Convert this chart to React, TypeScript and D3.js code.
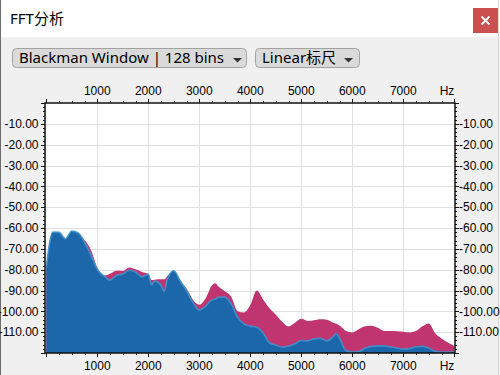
import React from "react";
import * as d3 from "d3";

const freqs = [0,62.5,125,250,375,500,625,750,875,1000,1125,1250,1375,1500,1625,1750,1875,2000,2062.5,2125,2250,2312.5,2375,2500,2625,2750,2875,3000,3125,3250,3312.5,3375,3500,3625,3750,3875,4000,4125,4250,4375,4500,4625,4750,4875,5000,5125,5250,5375,5500,5625,5687.5,5750,5875,6000,6125,6250,6375,6500,6625,6750,6875,7000,7125,7250,7375,7500,7625,7750,7875,8000];

const blueDb = [-79,-67.5,-62,-62.1,-65.2,-61.5,-62.4,-66.8,-73,-79.9,-82.9,-85,-82.8,-82.1,-80.3,-81.1,-83.4,-82.2,-87.3,-85.5,-87.5,-90.5,-84.5,-80.5,-85.4,-90,-95.7,-99.4,-97.5,-94.5,-94.2,-93.3,-93.2,-96.4,-102.8,-106,-107.1,-107.6,-110.3,-115,-116.2,-117.2,-116.8,-115.6,-114,-114.2,-113.2,-113,-114.2,-112.2,-110.8,-112.9,-118.8,-119.5,-119.3,-117.7,-116.8,-116.6,-116.6,-117.1,-117.6,-118.1,-117.9,-117,-116.8,-117.7,-119.2,-119.5,-119.5,-119.5];

const pinkDb = [-79,-67.5,-62,-62.1,-65.2,-61.5,-62.4,-65.8,-70.5,-79,-82.9,-82,-80.5,-80.6,-78.9,-79.8,-81.1,-82,-85,-84.8,-84.6,-84.6,-83,-80.5,-85.4,-89,-94.4,-96.8,-93.7,-87.5,-86.5,-88.1,-90.4,-93,-99.9,-100.6,-97,-90,-94.3,-98.5,-101.6,-105,-107.3,-105.5,-103.6,-104.6,-104.3,-103.8,-104,-105.5,-106,-106.8,-109.4,-110.1,-108.6,-107.2,-106.9,-107.9,-109.4,-109.4,-109.5,-109.8,-110.1,-109.4,-107.2,-105.8,-110.5,-113,-115,-116.6];

const xTickValues = [1000,2000,3000,4000,5000,6000,7000];
const yTickValues = [-10,-20,-30,-40,-50,-60,-70,-80,-90,-100,-110];
const windowLabel = "Blackman Window | 128 bins";
const scaleLabel = "Linear标尺";
const title = "FFT分析";

const W = 500, H = 375;
const L = 45, R = 455, T = 103, B = 353;

export default function App() {
  const x = d3.scaleLinear().domain([0, 8000]).range([46.3, 454.3]);
  const y = d3.scaleLinear().domain([0, -120]).range([T, B]);

  const blueData = freqs.map((f, i) => [f, blueDb[i]] as [number, number]);
  const pinkData = freqs.map((f, i) => [f, pinkDb[i]] as [number, number]);

  const area = d3.area<[number, number]>()
    .x(d => x(d[0]))
    .y0(B)
    .y1(d => y(d[1]))
    .curve(d3.curveMonotoneX);
  const line = d3.line<[number, number]>()
    .x(d => x(d[0]))
    .y(d => y(d[1]))
    .curve(d3.curveMonotoneX);

  const minorX = d3.range(0, 8001, 250);
  const minorY = d3.range(0, -121, -2);
  const axisFont = "'Liberation Sans', Arial, sans-serif";
  const uiFont = "'Noto Sans', 'Noto Sans CJK SC', sans-serif";

  return (
    <div style={{ position: "fixed", left: 0, top: 0, width: W, height: H }}>
      <svg width={W} height={H} style={{ display: "block" }}>
        <defs>
          <clipPath id="plotclip">
            <rect x={L} y={T} width={R - L} height={B - T} />
          </clipPath>
        </defs>
        <rect x={0} y={0} width={W} height={H} fill="#f0f0f0" />
        <rect x={0} y={0} width={W} height={37} fill="#ffffff" />
        <line x1={0.5} y1={0} x2={0.5} y2={H} stroke="#6b6b6b" strokeWidth={1} />
        <line x1={498.5} y1={0} x2={498.5} y2={H} stroke="#d8d8d8" strokeWidth={1} />
        <text x={10} y={24} fontFamily={uiFont} fontSize={15} fill="#000">{title}</text>
        <rect x={473} y={8} width={25} height={25} fill="#c9504f" />
        <path d="M481.5,16.5 L489.5,24.5 M489.5,16.5 L481.5,24.5" stroke="#fff" strokeWidth={1.8} />

        {/* dropdowns */}
        <rect x={12.5} y={48.5} width={234} height={19} rx={4} fill="#dadada" stroke="#a2a2a2" />
        <text x={19} y={63.3} fontFamily={uiFont} fontSize={15} fill="#000">{windowLabel}</text>
        <path d="M233,58 L242,58 L237.5,62.5 Z" fill="#333" />
        <rect x={255.5} y={48.5} width={104} height={19} rx={4} fill="#dadada" stroke="#a2a2a2" />
        <text x={262} y={63.3} fontFamily={uiFont} fontSize={15} fill="#000">{scaleLabel}</text>
        <path d="M344,58 L353,58 L348.5,62.5 Z" fill="#333" />

        {/* plot */}
        <rect x={L} y={T} width={R - L} height={B - T} fill="#ffffff" />
        <g stroke="#e0e0e0" strokeWidth={1}>
          {xTickValues.map(v => (
            <line key={"gx" + v} x1={Math.round(x(v)) + 0.5} x2={Math.round(x(v)) + 0.5} y1={T} y2={B} />
          ))}
          {yTickValues.map(v => (
            <line key={"gy" + v} x1={L} x2={R} y1={Math.round(y(v)) + 0.5} y2={Math.round(y(v)) + 0.5} />
          ))}
        </g>
        <g clipPath="url(#plotclip)">
          <path d={area(pinkData) || ""} fill="#c0356f" />
          <path d={area(blueData) || ""} fill="#1b67aa" />
          <path d={line(blueData) || ""} fill="none" stroke="#3f93cf" strokeWidth={1.6} strokeOpacity={0.9} />
        </g>

        {/* frame */}
        <rect x={L} y={T} width={R - L} height={B - T} fill="none" stroke="#111" strokeWidth={1.5} />

        {/* ticks */}
        <g stroke="#111" strokeWidth={1}>
          {minorX.map(v => {
            const major = v % 1000 === 0;
            const px = Math.round(x(v)) + 0.5;
            return (
              <g key={"tx" + v}>
                <line x1={px} x2={px} y1={T} y2={T - (major ? 4 : 2)} />
                <line x1={px} x2={px} y1={B} y2={B + (major ? 4 : 2)} />
              </g>
            );
          })}
          {minorY.map(v => {
            const major = v % 10 === 0;
            const py = Math.round(y(v)) + 0.5;
            return (
              <g key={"ty" + v}>
                <line x1={L} x2={L - (major ? 4 : 2)} y1={py} y2={py} />
                <line x1={R} x2={R + (major ? 4 : 2)} y1={py} y2={py} />
              </g>
            );
          })}
        </g>

        {/* labels */}
        <g fontFamily={axisFont} fontSize={12} fill="#000">
          {xTickValues.map(v => (
            <text key={"lt" + v} x={x(v)} y={94.5} textAnchor="middle">{v}</text>
          ))}
          {xTickValues.map(v => (
            <text key={"lb" + v} x={x(v)} y={369.5} textAnchor="middle">{v}</text>
          ))}
          <text x={x(8000)} y={94.5} textAnchor="end">Hz</text>
          <text x={x(8000)} y={369.5} textAnchor="end">Hz</text>
          {yTickValues.map(v => (
            <text key={"ll" + v} x={38.5} y={y(v) + 4.3} textAnchor="end">{v.toFixed(2)}</text>
          ))}
          {yTickValues.map(v => (
            <text key={"lr" + v} x={459} y={y(v) + 4.3} textAnchor="start">{v.toFixed(2)}</text>
          ))}
        </g>
      </svg>
    </div>
  );
}
